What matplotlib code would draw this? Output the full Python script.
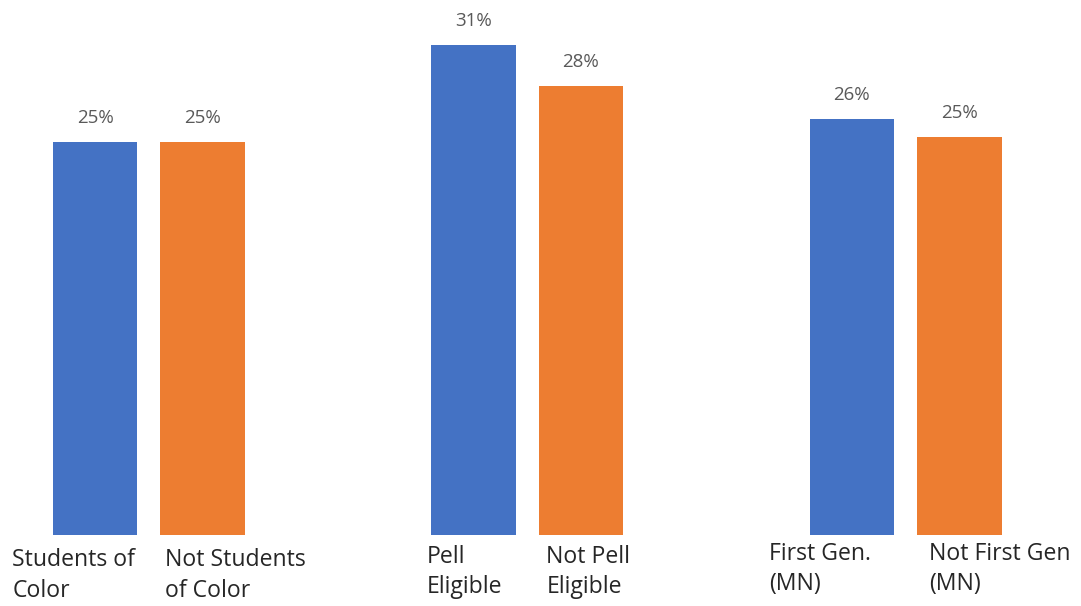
import matplotlib
matplotlib.use('Agg')
import matplotlib.pyplot as plt
import numpy as np

plt.rcParams['font.family'] = ['Open Sans', 'DejaVu Sans']

# --- data ---
groups = ['Students of Color', 'Pell Eligible', 'First Gen. (MN)']
yes_labels = ['Students of\nColor', 'Pell\nEligible', 'First Gen.\n(MN)']
no_labels = ['Not Students\nof Color', 'Not Pell\nEligible', 'Not First Gen\n(MN)']
yes_vals = [24.9, 31.0, 26.3]
no_vals = [24.9, 28.4, 25.2]

BLUE = '#4472C4'
ORANGE = '#ED7D31'

fig = plt.figure(figsize=(10.81, 6.06), dpi=100)
# axes: bottom of bars at y=535px (from top), ~15.8 px per percent
ax = fig.add_axes([0, 71 / 606, 1, 535 / 606])
ax.set_xlim(-95 / 107.5, (1081 - 95) / 107.5)
ax.set_ylim(0, 535 / 15.8)
ax.axis('off')

gstep = 3.52
w = 0.786
xg = np.arange(len(groups)) * gstep
x_yes = xg
x_no = xg + 1.0

b1 = ax.bar(x_yes, yes_vals, w, color=BLUE)
b2 = ax.bar(x_no, no_vals, w, color=ORANGE)

for bars, vals in [(b1, yes_vals), (b2, no_vals)]:
    for r, v in zip(bars, vals):
        ax.annotate(f'{v:.0f}%', (r.get_x() + r.get_width() / 2, v),
                    xytext=(0, 15), textcoords='offset pixels',
                    ha='center', va='bottom', fontsize=13.5, color='#595959')

# category labels (left-aligned, Excel-style wrapping)
lab_dx_yes = [-0.77, -0.43, -0.77]
lab_dx_no = [-0.35, -0.32, -0.28]
lab_dy = [-0.85, -0.62, -0.45]
for i in range(len(groups)):
    for x, dx, txt in [(x_yes[i], lab_dx_yes[i], yes_labels[i]),
                       (x_no[i], lab_dx_no[i], no_labels[i])]:
        ax.text(x + dx, lab_dy[i], txt, ha='left', va='top', fontsize=16.6,
                color='#262626', linespacing=1.35, clip_on=False)

fig.savefig('out.png', dpi=100, facecolor='white')
